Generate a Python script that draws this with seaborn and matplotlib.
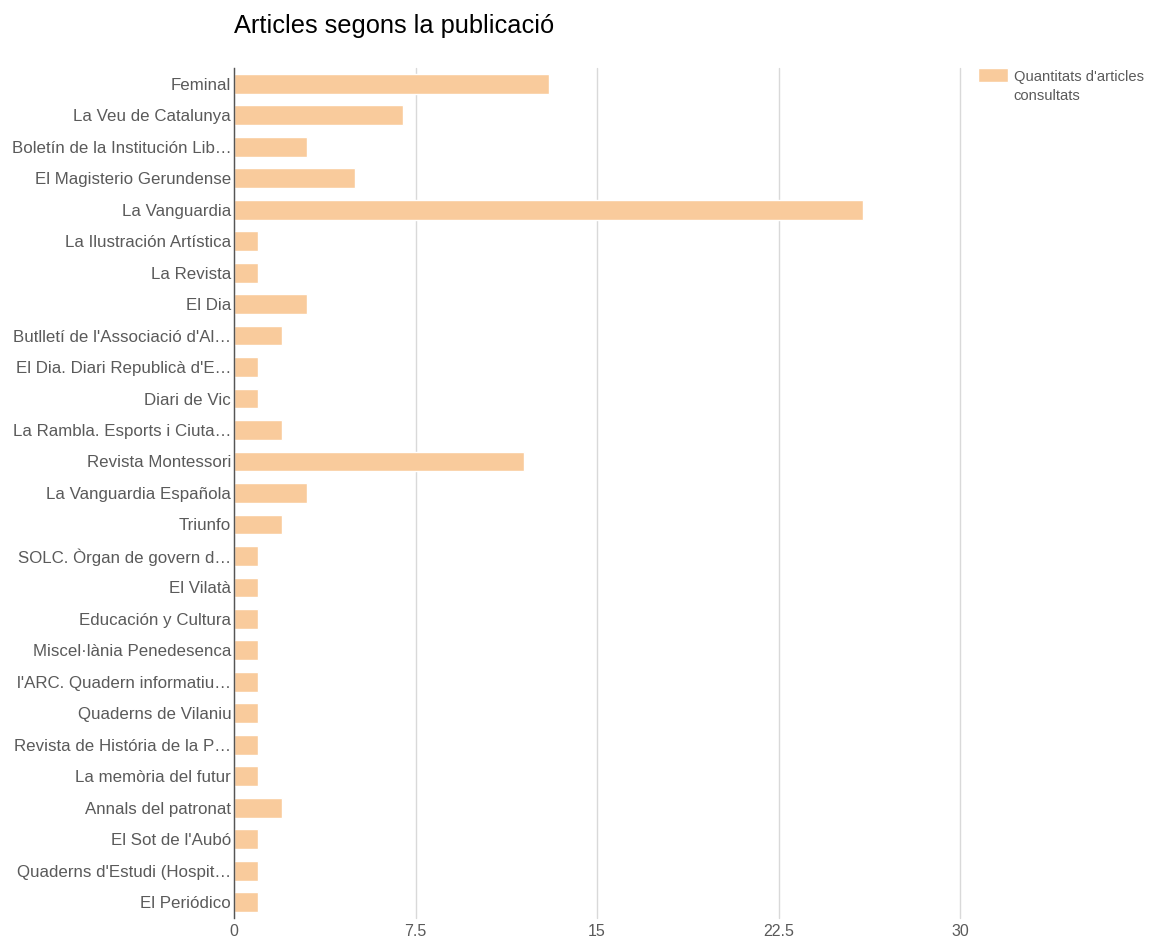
import matplotlib
matplotlib.use("Agg")
import matplotlib.pyplot as plt
from matplotlib.patches import Rectangle
from matplotlib.container import BarContainer
from matplotlib.legend_handler import HandlerPatch, update_from_first_child
import seaborn as sns
import pandas as pd

publicacions = [
    "Feminal", "La Veu de Catalunya", "Boletín de la Institución Lib…",
    "El Magisterio Gerundense", "La Vanguardia", "La Ilustración Artística",
    "La Revista", "El Dia", "Butlletí de l'Associació d'Al…",
    "El Dia. Diari Republicà d'E…", "Diari de Vic", "La Rambla. Esports i Ciuta…",
    "Revista Montessori", "La Vanguardia Española", "Triunfo",
    "SOLC. Òrgan de govern d…", "El Vilatà", "Educación y Cultura",
    "Miscel·lània Penedesenca", "l'ARC. Quadern informatiu…", "Quaderns de Vilaniu",
    "Revista de História de la P…", "La memòria del futur", "Annals del patronat",
    "El Sot de l'Aubó", "Quaderns d'Estudi (Hospit…", "El Periódico",
]
articles = [13, 7, 3, 5, 26, 1, 1, 3, 2, 1, 1, 2, 12, 3, 2,
            1, 1, 1, 1, 1, 1, 1, 1, 2, 1, 1, 1]
serie = "Quantitats d'articles\nconsultats"
xticks = [0, 7.5, 15, 22.5, 30]
xticklabels = ["0", "7.5", "15", "22.5", "30"]

df = pd.DataFrame({"publicacio": publicacions, "articles": articles})

sns.set_style("white")
plt.rcParams["font.family"] = ["Liberation Sans", "DejaVu Sans"]

fig = plt.figure(figsize=(11.5, 9.4), dpi=100)
ax = fig.add_axes([0.2035, 0.0234, 0.6313, 0.9043])

sns.barplot(data=df, y="publicacio", x="articles", color="#f9cb9c",
            saturation=1, width=0.63, ax=ax, label=serie)

ax.set_xlim(0, 30)
ax.set_xticks(xticks)
ax.set_xticklabels(xticklabels)
ax.grid(axis="x", color="#d9d9d9", linewidth=1)
for gl in ax.get_xgridlines():
    gl.set_clip_on(False)
ax.set_axisbelow(True)
for s in ["top", "right", "bottom"]:
    ax.spines[s].set_visible(False)
ax.spines["left"].set_color("#555555")
ax.spines["left"].set_linewidth(1)
ax.tick_params(axis="both", length=0, labelcolor="#5a5a5a")
ax.tick_params(axis="y", labelsize=12.2, pad=2)
ax.tick_params(axis="x", labelsize=11.5, pad=4)
ax.set_xlabel("")
ax.set_ylabel("")

fig.text(0.2035, 0.972, "Articles segons la publicació", fontsize=18.3,
         color="#000000", va="center", ha="left")


# swatch aligned with the first line of the legend text
def top_patch(legend, orig_handle, xdescent, ydescent, width, height, fontsize):
    return Rectangle((-xdescent, -ydescent + 0.75 * fontsize), width, 0.95 * fontsize)


leg = ax.legend(loc="upper left", bbox_to_anchor=(1.025, 0.998), frameon=False,
                fontsize=10.6, handlelength=2.0, handleheight=1.0,
                borderaxespad=0, borderpad=0, handletextpad=0.42,
                handler_map={BarContainer: HandlerPatch(
                    patch_func=top_patch, update_func=update_from_first_child)})
for t in leg.get_texts():
    t.set_color("#5a5a5a")
    t.set_linespacing(1.45)

fig.savefig("out.png", dpi=100)
